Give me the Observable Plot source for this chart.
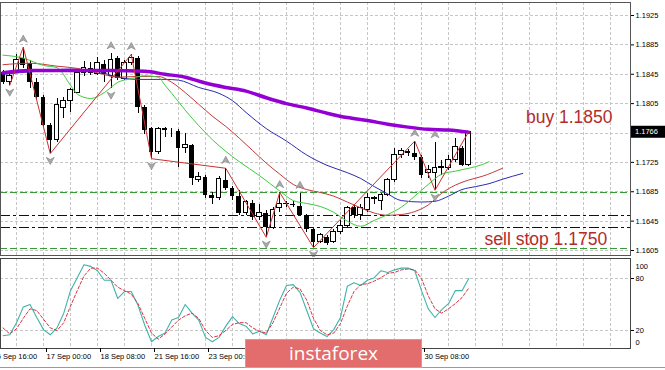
<!DOCTYPE html>
<html>
<head>
<meta charset="utf-8">
<script src="https://cdn.jsdelivr.net/npm/d3@7"></script>
<script src="https://cdn.jsdelivr.net/npm/@observablehq/plot@0.6"></script>
<style>
  html, body { margin: 0; padding: 0; background: #fff; }
  #chart { position: relative; width: 665px; height: 370px; overflow: hidden; background: #fff; }
  #chart svg { display: block; }
  #wm { position: absolute; left: 245px; top: 339px; width: 177px; height: 29px; background: #e36c6c;
        box-shadow: inset 0 0 0 1px #ec8f8f;
        color: #fff; font-family: "Open Sans", sans-serif; font-size: 19px; line-height: 28px; text-align: center; }
</style>
</head>
<body>
<div id="chart"></div>
<script>
// ---------- DATA (EURUSD H4) ----------
const firstBar = -6; // bar index of the first candle (bar 0 = 17 Sep 00:00)
const openP  = [1.1847,1.1834,1.1847,1.1867,1.1860,1.1834,1.1813,1.1775,1.1755,1.1799,1.1809,1.1820,1.1847,1.1853,1.1846,1.1858,1.1842,1.1867,1.1839,1.1860,1.1867,1.1800,1.1771,1.1739,1.1769,1.1769,1.1767,1.1744,1.1748,1.1701,1.1705,1.1680,1.1676,1.1701,1.1690,1.1678,1.1656,1.1669,1.1650,1.1656,1.1635,1.1663,1.1668,1.1667,1.1665,1.1652,1.1633,1.1616,1.1623,1.1616,1.1630,1.1639,1.1664,1.1653,1.1660,1.1675,1.1673,1.1680,1.1701,1.1735,1.1740,1.1737,1.1732,1.1710,1.1711,1.1718,1.1717,1.1728,1.1744,1.1721];
const highP  = [1.1850,1.1846,1.1872,1.1882,1.1864,1.1839,1.1816,1.1778,1.1812,1.1813,1.1826,1.1850,1.1862,1.1861,1.1868,1.1864,1.1873,1.1869,1.1864,1.1872,1.1869,1.1803,1.1773,1.1773,1.1773,1.1771,1.1770,1.1765,1.1750,1.1711,1.1707,1.1684,1.1706,1.1717,1.1692,1.1687,1.1673,1.1673,1.1667,1.1660,1.1664,1.1684,1.1672,1.1672,1.1683,1.1654,1.1635,1.1628,1.1626,1.1633,1.1646,1.1665,1.1668,1.1667,1.1682,1.1678,1.1683,1.1703,1.1744,1.1744,1.1743,1.1754,1.1735,1.1721,1.1752,1.1728,1.1735,1.1758,1.1747,1.1767];
const lowP   = [1.1831,1.1830,1.1846,1.1853,1.1826,1.1809,1.1773,1.1737,1.1752,1.1785,1.1793,1.1819,1.1842,1.1843,1.1843,1.1834,1.1826,1.1837,1.1837,1.1857,1.1792,1.1763,1.1730,1.1736,1.1759,1.1759,1.1718,1.1737,1.1694,1.1698,1.1676,1.1667,1.1673,1.1687,1.1673,1.1652,1.1653,1.1646,1.1646,1.1623,1.1633,1.1657,1.1664,1.1663,1.1652,1.1630,1.1609,1.1614,1.1612,1.1614,1.1627,1.1637,1.1649,1.1646,1.1657,1.1667,1.1660,1.1678,1.1698,1.1730,1.1733,1.1728,1.1703,1.1703,1.1687,1.1707,1.1714,1.1725,1.1720,1.1720];
const closeP = [1.1834,1.1842,1.1864,1.1857,1.1834,1.1813,1.1775,1.1755,1.1803,1.1809,1.1823,1.1847,1.1854,1.1846,1.1860,1.1845,1.1864,1.1839,1.1860,1.1867,1.1800,1.1769,1.1739,1.1771,1.1770,1.1768,1.1744,1.1748,1.1703,1.1705,1.1680,1.1676,1.1703,1.1690,1.1678,1.1656,1.1671,1.1650,1.1656,1.1637,1.1660,1.1669,1.1669,1.1666,1.1653,1.1633,1.1616,1.1626,1.1615,1.1630,1.1639,1.1663,1.1653,1.1663,1.1676,1.1676,1.1680,1.1701,1.1735,1.1741,1.1737,1.1732,1.1707,1.1714,1.1718,1.1719,1.1728,1.1746,1.1721,1.1766];

// Moving averages (bar index, value)
const maGreenIdx = [-6,-3,0,2,4,5,7,9,11,13,15,17,18,19,21,23,25,27,29,32,35,37,39,41,43,45,47,49,51,53,55,57,59,61,63,65,66];
const maGreen    = [1.1871,1.1867,1.1857,1.1854,1.1830,1.1818,1.1812,1.1820,1.1834,1.1839,1.1843,1.1841,1.1830,1.1819,1.1796,1.1775,1.1756,1.1740,1.1726,1.1707,1.1686,1.1673,1.1669,1.1665,1.1657,1.1645,1.1638,1.1646,1.1654,1.1664,1.1679,1.1695,1.1709,1.1713,1.1717,1.1722,1.1726];
const maRedIdx   = [-6,-2,2,5,8,11,14,17,19,21,23,25,27,29,31,33,35,37,39,41,43,45,47,49,51,53,55,57,59,61,63,65,68];
const maRed      = [1.1858,1.1860,1.1856,1.1853,1.1847,1.1841,1.1842,1.1842,1.1834,1.1820,1.1804,1.1788,1.1774,1.1758,1.1741,1.1724,1.1709,1.1695,1.1688,1.1684,1.1679,1.1671,1.1663,1.1656,1.1653,1.1654,1.1658,1.1667,1.1683,1.1694,1.1701,1.1706,1.1717];
const maBlueIdx  = [-6,-1,4,8,11,14,18,20,23,26,28,30,33,36,39,42,45,47,49,51,53,56,58,60,62,64,66,68,71];
const maBlue     = [1.1845,1.1849,1.1852,1.1849,1.1841,1.1838,1.1838,1.1837,1.1827,1.1819,1.1809,1.1793,1.1771,1.1754,1.1735,1.1721,1.1711,1.1703,1.1692,1.1682,1.1673,1.1671,1.1672,1.1679,1.1688,1.1692,1.1696,1.1702,1.1710];
const maPurpleIdx= [-6,-2,4,10,15,18,21,24,27,30,33,36,39,42,45,48,51,54,57,60,63];
const maPurple   = [1.1847,1.1850,1.1850,1.1850,1.1849,1.1845,1.1841,1.1833,1.1827,1.1822,1.1813,1.1805,1.1799,1.1792,1.1786,1.1782,1.1777,1.1773,1.1770,1.1769,1.1766];

// ZigZag and fractals
const zigIdx = [-5,-3,1,13,16,27,33,35,40,55,58,63];
const zigVal = [1.1830,1.1882,1.1737,1.1872,1.1730,1.1717,1.1623,1.1684,1.1609,1.1754,1.1687,1.1767];
const fractalUp   = [-3,10,13,27,35,38,55,58];
const fractalDown = [-5,1,10,16,33,40,58];

// Horizontal levels
const levelsGreen = [1.1684, 1.1608];
const levelsBlack = [1.1652, 1.1637];

// Notes
const noteText = ["buy 1.1850", "sell stop 1.1750"];
const noteBar  = [84.3, 83.5];
const notePrice= [1.1779, 1.1613];

// Stochastic (per bar)
const stochK = [14,15,29,47,50,35,21,15,23,40,66,81,96,94,89,78,78,57,65,65,49,26,7,13,17,32,35,50,40,32,12,7,12,25,36,28,25,16,19,15,35,55,72,73,64,43,22,17,13,21,35,71,75,72,78,81,89,87,90,92,92,89,66,45,35,44,51,66,66,80];
const stochD = [23,16,22,34,45,43,33,23,20,29,48,66,83,92,92,86,78,70,66,62,51,34,17,10,16,24,32,37,40,34,20,12,14,20,27,29,29,23,19,17,29,46,63,70,68,55,34,20,15,17,28,48,65,73,74,77,81,86,87,90,91,90,80,60,45,40,45,51,58,69];

// Axis ticks
const priceGrid  = [1.1605,1.1645,1.1685,1.1725,1.1765,1.1805,1.1845,1.1885,1.1925];
const priceTicks = [1.1605,1.1645,1.1685,1.1725,1.1805,1.1845,1.1885,1.1925];
const timeTickBar = [-8,0,8,16,24,32,40,48,56];
const timeTickLabel = ["15 Sep 16:00","17 Sep 00:00","18 Sep 08:00","21 Sep 16:00","23 Sep 00:00","24 Sep 08:00","25 Sep 16:00","29 Sep 00:00","30 Sep 08:00"];
const stochGrid = [20, 80];

// ---------- BUILD ----------
const bars = openP.map((o, k) => ({i: firstBar + k, o, h: highP[k], l: lowP[k], c: closeP[k]}));
const bull = bars.filter(d => d.c >= d.o);
const bear = bars.filter(d => d.c < d.o);
const pts = (xs, ys) => xs.map((x, k) => ({x, y: ys[k]}));
const byBar = new Map(bars.map(d => [d.i, d]));
const gridBars = d3.range(-8, 90, 4);
const notes = noteText.map((t, k) => ({t, x: noteBar[k], y: notePrice[k]}));
const kPts = stochK.map((v, k) => ({x: firstBar + k, y: v}));
const dPts = stochD.map((v, k) => ({x: firstBar + k, y: v}));

const upArrow = {draw(ctx, size) { const r = Math.sqrt(size / Math.PI);
  ctx.moveTo(0, -r); ctx.lineTo(r, r * 0.8); ctx.lineTo(0, r * 0.25); ctx.lineTo(-r, r * 0.8); ctx.closePath(); }};
const downArrow = {draw(ctx, size) { const r = Math.sqrt(size / Math.PI);
  ctx.moveTo(0, r); ctx.lineTo(r, -r * 0.8); ctx.lineTo(0, -r * 0.25); ctx.lineTo(-r, -r * 0.8); ctx.closePath(); }};

const W = 665, MR = 35;
const FONT = "'Liberation Sans', Arial, sans-serif";
const X = {type: "linear", domain: [0, 56], range: [43, 421], axis: null};
const gridStyle = {stroke: "#c6c6c6", strokeDasharray: "3,2", clip: true, shapeRendering: "crispEdges"};

const main = Plot.plot({
  width: W, height: 257, marginLeft: 0, marginRight: MR, marginTop: 2, marginBottom: 2,
  style: {fontFamily: FONT, fontSize: "7.5px", background: "#fff", color: "#000"},
  x: X,
  y: {type: "linear", domain: [1.1605, 1.1925], range: [250, 15], label: null},
  marks: [
    Plot.ruleY(priceGrid, gridStyle),
    Plot.ruleX(gridBars, gridStyle),
    Plot.ruleY(levelsGreen, {stroke: "#3a9a3a", strokeDasharray: "7,3", clip: true, shapeRendering: "crispEdges"}),
    Plot.ruleY(levelsBlack, {stroke: "#111", strokeDasharray: "10,3,3,3", clip: true, shapeRendering: "crispEdges"}),
    Plot.ruleX(bars, {x: "i", y1: "l", y2: "h", stroke: "#000", clip: true, shapeRendering: "crispEdges"}),
    Plot.rect(bear, {x1: d => d.i - 0.36, x2: d => d.i + 0.36, y1: "o", y2: "c", fill: "#000", clip: true, shapeRendering: "crispEdges"}),
    Plot.rect(bull, {x1: d => d.i - 0.36, x2: d => d.i + 0.36, y1: "o", y2: "c", fill: "#fff", stroke: "#000", clip: true, shapeRendering: "crispEdges"}),
    Plot.line(pts(maBlueIdx, maBlue), {x: "x", y: "y", stroke: "#2b2bb0", strokeWidth: 1, curve: "monotone-x", clip: true}),
    Plot.line(pts(maRedIdx, maRed), {x: "x", y: "y", stroke: "#c43a3a", strokeWidth: 1, curve: "monotone-x", clip: true}),
    Plot.line(pts(maGreenIdx, maGreen), {x: "x", y: "y", stroke: "#3ccc3c", strokeWidth: 1, curve: "monotone-x", clip: true}),
    Plot.line(pts(maPurpleIdx, maPurple), {x: "x", y: "y", stroke: "#9400d3", strokeWidth: 3.5, curve: "monotone-x", clip: true}),
    Plot.line(pts(zigIdx, zigVal), {x: "x", y: "y", stroke: "#cc3030", strokeWidth: 1, clip: true}),
    Plot.dot(fractalUp.map(i => byBar.get(i)), {x: "i", y: "h", dy: -8, r: 4, symbol: upArrow, fill: "#a9a9a9", stroke: "#808080", strokeWidth: 0.6}),
    Plot.dot(fractalDown.map(i => byBar.get(i)), {x: "i", y: "l", dy: 7, r: 4, symbol: downArrow, fill: "#a9a9a9", stroke: "#808080", strokeWidth: 0.6}),
    Plot.text(notes, {x: "x", y: "y", text: "t", textAnchor: "end", lineAnchor: "bottom", fill: "#b22c2c", fontSize: 17.5, fontFamily: FONT}),
    Plot.frame({stroke: "#555", shapeRendering: "crispEdges"}),
    Plot.axisY({anchor: "right", ticks: priceTicks, tickSize: 3, tickPadding: 2, tickFormat: d3.format(".4f"), fontSize: 7.5, fill: "#000", stroke: "#000", label: null})
  ]
});

// current price box on the right axis
{
  const last = closeP[closeP.length - 1];
  const y = main.scale("y").apply(last);
  const s = d3.select(main);
  s.append("rect").attr("x", W - MR + 1).attr("y", y - 6).attr("width", MR - 1).attr("height", 12).attr("fill", "#000");
  s.append("text").attr("x", W - MR + 5).attr("y", y).attr("dy", "0.35em").attr("fill", "#fff")
    .attr("text-anchor", "start").attr("font-size", 7.5).attr("font-family", FONT).text(d3.format(".4f")(last));
}

const stoch = Plot.plot({
  width: W, height: 113, marginLeft: 0, marginRight: MR, marginTop: 1, marginBottom: 22,
  style: {fontFamily: FONT, fontSize: "7.5px", background: "#fff", color: "#000"},
  x: X,
  y: {type: "linear", domain: [0, 100], range: [90.3, 3.7], label: null},
  marks: [
    Plot.ruleY(stochGrid, gridStyle),
    Plot.ruleX(gridBars, gridStyle),
    Plot.line(kPts, {x: "x", y: "y", stroke: "#3fb3aa", strokeWidth: 1.1, clip: true}),
    Plot.line(dPts, {x: "x", y: "y", stroke: "#dc3440", strokeWidth: 1, strokeDasharray: "3,2", clip: true}),
    Plot.frame({stroke: "#444", shapeRendering: "crispEdges"}),
    Plot.axisY({anchor: "right", ticks: stochGrid, tickSize: 3, tickPadding: 2, fontSize: 7.5, fill: "#000", label: null}),
    Plot.text([100], {y: d => d, text: d => String(d), frameAnchor: "right", dx: 5, dy: 5, textAnchor: "start", fontSize: 7.5, fill: "#000"}),
    Plot.text([0], {y: d => d, text: d => String(d), frameAnchor: "right", dx: 5, dy: -5, textAnchor: "start", fontSize: 7.5, fill: "#000"}),
    Plot.axisX({anchor: "bottom", ticks: timeTickBar, tickFormat: d => timeTickLabel[timeTickBar.indexOf(d)],
                tickSize: 4, tickPadding: 1, textAnchor: "start", dx: 3, fontSize: 7.5, fill: "#000", label: null})
  ]
});
d3.select(stoch).append("line").attr("x1", 0).attr("x2", W).attr("y1", 110.5).attr("y2", 110.5).attr("stroke", "#9a9a9a");

const root = document.getElementById("chart");
root.appendChild(main);
root.appendChild(stoch);
const wm = document.createElement("div");
wm.id = "wm"; wm.textContent = "instaforex";
root.appendChild(wm);
</script>
</body>
</html>
